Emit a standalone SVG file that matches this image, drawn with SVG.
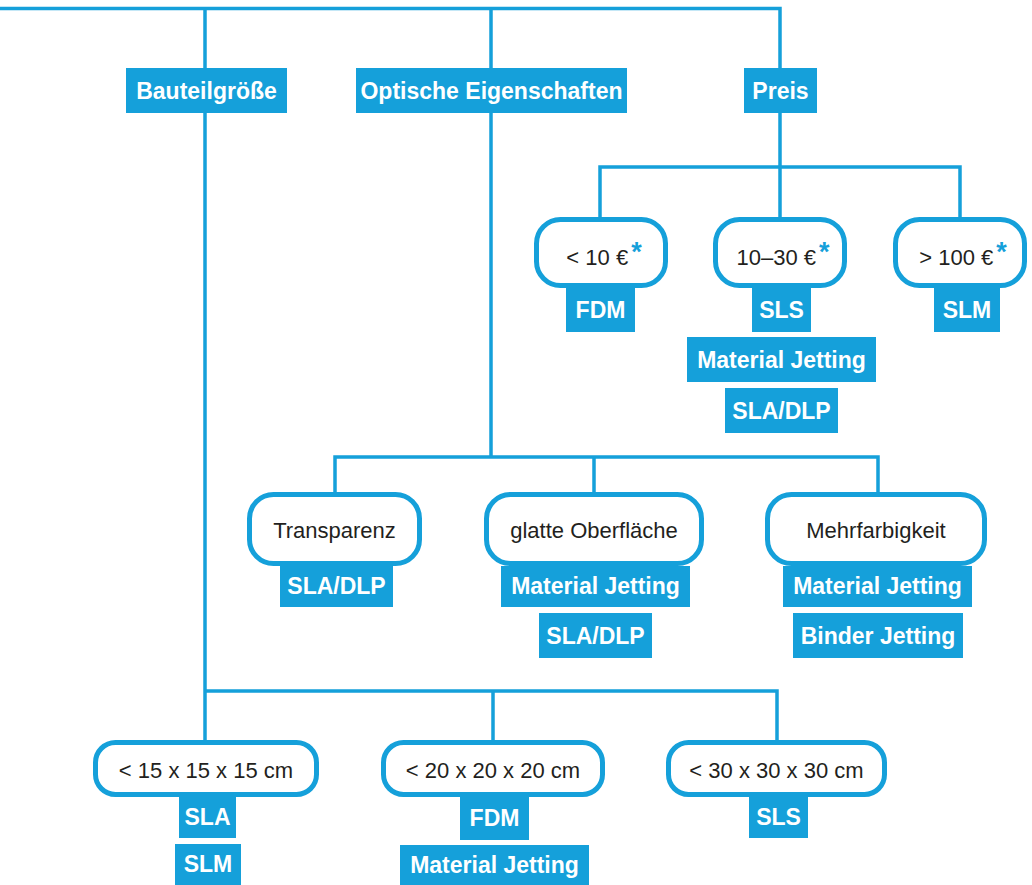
<svg xmlns="http://www.w3.org/2000/svg" width="1032" height="885" viewBox="0 0 1032 885">
<style>
.ln{fill:none;stroke:#15a0da;stroke-width:3.5}
.nd{fill:#fff;stroke:#15a0da;stroke-width:5}
.lb{fill:#15a0da}
.lt{font-family:"Liberation Sans",Arial,sans-serif;font-weight:bold;font-size:23px;fill:#fff;text-anchor:middle}
.nt{font-family:"Liberation Sans",Arial,sans-serif;font-size:22px;fill:#231f20;text-anchor:middle}
.st{font-weight:bold;fill:#15a0da;font-size:27px}
</style>
<rect width="1032" height="885" fill="#fff"/>
<g id="connectors">
<path class="ln" d="M0 8.5H780V68M205 8.5V68M491 8.5V68"/>
<path class="ln" d="M780 113V167M600 219V167H960V219M780 167V219"/>
<path class="ln" d="M491 113V457M335 494V457H878V494M594 457V494"/>
<path class="ln" d="M205 113V742M205 691H777V742M493 691V742"/>
</g>
<g id="cat-bauteil"><rect class="lb" x="126" y="68" width="161" height="45"/><text class="lt" x="206.5" y="99">Bauteilgröße</text></g>
<g id="cat-optisch"><rect class="lb" x="356" y="68" width="271" height="45"/><text class="lt" x="491.5" y="99">Optische Eigenschaften</text></g>
<g id="cat-preis"><rect class="lb" x="744" y="68" width="73" height="45"/><text class="lt" x="780.5" y="99">Preis</text></g>

<g id="p1"><rect class="nd" x="536.5" y="219.5" width="129" height="66" rx="24"/><text class="nt" x="604" y="265">&lt; 10 €<tspan class="st" dx="3" dy="-4">*</tspan></text>
<rect class="lb" x="566" y="288" width="69" height="44"/><text class="lt" x="600.5" y="318">FDM</text></g>
<g id="p2"><rect class="nd" x="715.5" y="219.5" width="129" height="66" rx="24"/><text class="nt" x="783" y="265">10–30 €<tspan class="st" dx="3" dy="-4">*</tspan></text>
<rect class="lb" x="752" y="288" width="59" height="44"/><text class="lt" x="781.5" y="318">SLS</text>
<rect class="lb" x="687" y="337" width="189" height="45"/><text class="lt" x="781.5" y="368">Material Jetting</text>
<rect class="lb" x="725" y="388" width="113" height="45"/><text class="lt" x="781.5" y="419">SLA/DLP</text></g>
<g id="p3"><rect class="nd" x="895.5" y="219.5" width="129" height="66" rx="24"/><text class="nt" x="963" y="265">&gt; 100 €<tspan class="st" dx="3" dy="-4">*</tspan></text>
<rect class="lb" x="934" y="288" width="66" height="44"/><text class="lt" x="967" y="318">SLM</text></g>

<g id="o1"><rect class="nd" x="249.5" y="494.5" width="170" height="69" rx="24"/><text class="nt" x="334.5" y="538">Transparenz</text>
<rect class="lb" x="280" y="566" width="113" height="41"/><text class="lt" x="336.5" y="594">SLA/DLP</text></g>
<g id="o2"><rect class="nd" x="486.5" y="494.5" width="215" height="69" rx="24"/><text class="nt" x="594" y="538">glatte Oberfläche</text>
<rect class="lb" x="501" y="566" width="189" height="41"/><text class="lt" x="595.5" y="594">Material Jetting</text>
<rect class="lb" x="539" y="613" width="113" height="45"/><text class="lt" x="595.5" y="644">SLA/DLP</text></g>
<g id="o3"><rect class="nd" x="767.5" y="494.5" width="217" height="69" rx="24"/><text class="nt" x="876" y="538">Mehrfarbigkeit</text>
<rect class="lb" x="783" y="566" width="189" height="41"/><text class="lt" x="877.5" y="594">Material Jetting</text>
<rect class="lb" x="793" y="613" width="170" height="45"/><text class="lt" x="878" y="644">Binder Jetting</text></g>

<g id="b1"><rect class="nd" x="95.5" y="742.5" width="221" height="52" rx="20"/><text class="nt" x="206" y="778">&lt; 15 x 15 x 15 cm</text>
<rect class="lb" x="179" y="797" width="57" height="41"/><text class="lt" x="207.5" y="825">SLA</text>
<rect class="lb" x="175" y="844" width="66" height="41"/><text class="lt" x="208" y="872">SLM</text></g>
<g id="b2"><rect class="nd" x="383.5" y="742.5" width="219" height="52" rx="20"/><text class="nt" x="493" y="778">&lt; 20 x 20 x 20 cm</text>
<rect class="lb" x="460" y="797" width="69" height="43"/><text class="lt" x="494.5" y="826">FDM</text>
<rect class="lb" x="400" y="845" width="189" height="40"/><text class="lt" x="494.5" y="873">Material Jetting</text></g>
<g id="b3"><rect class="nd" x="668.5" y="742.5" width="216" height="52" rx="20"/><text class="nt" x="776.5" y="778">&lt; 30 x 30 x 30 cm</text>
<rect class="lb" x="749" y="797" width="59" height="41"/><text class="lt" x="778.5" y="825">SLS</text></g>
</svg>
